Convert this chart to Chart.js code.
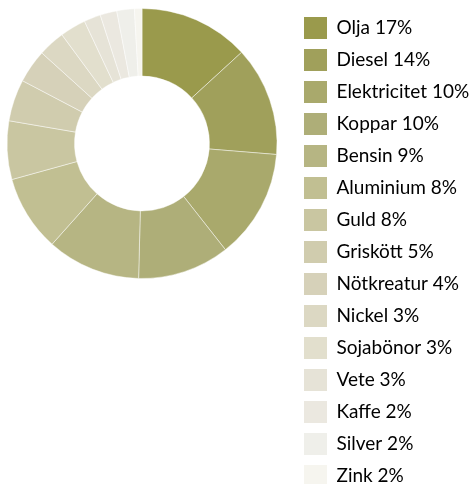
<!DOCTYPE html>
<html lang="sv">
<head>
    <meta charset="UTF-8">
    <title>Råvaror</title>
    <script src="https://cdn.jsdelivr.net/npm/chart.js"></script>
    <style>
        html, body {
            margin: 0;
            padding: 0;
            background: #fff;
            overflow: hidden;
        }
        .chart-container {
            position: relative;
            width: 472px;
            height: 500px;
        }
    </style>
</head>
<body>

<div class="chart-container">
    <canvas id="mixChart"></canvas>
</div>

<script>
    // legend names and the percentages printed next to them
    const names = ['Olja', 'Diesel', 'Elektricitet', 'Koppar', 'Bensin', 'Aluminium', 'Guld',
        'Griskött', 'Nötkreatur', 'Nickel', 'Sojabönor', 'Vete', 'Kaffe', 'Silver', 'Zink'];
    const legendPct = [17, 14, 10, 10, 9, 8, 8, 5, 4, 3, 3, 3, 2, 2, 2];

    // slice sizes as measured off the ring itself
    const sliceValues = [13.2, 13.1, 13.1, 11.0, 11.2, 9.1, 7.0, 5.0, 4.0, 3.2, 3.1, 2.0, 2.0, 2.1, 0.9];

    const colors = ['#9a9a4c', '#a0a05b', '#a9a96c', '#aeae78', '#b6b583', '#c1bf92', '#c9c6a1',
        '#d0ccae', '#d6d1b9', '#dcd8c3', '#e2dfcd', '#e6e3d7', '#ebe8e0', '#efefea', '#f6f5ef'];

    // put the ring in the top-left corner, legend keeps its own box
    const placeRing = {
        id: 'placeRing',
        afterLayout(chart) {
            const a = chart.chartArea;
            a.left = 6.5;
            a.right = 277.5;
            a.top = 8;
            a.bottom = 279;
            a.width = 271;
            a.height = 271;
        }
    };

    const ctx = document.getElementById('mixChart').getContext('2d');

    new Chart(ctx, {
        type: 'doughnut',
        data: {
            labels: names,
            datasets: [{
                data: sliceValues,
                backgroundColor: colors,
                borderColor: 'rgba(255,255,255,0.45)',
                borderWidth: 1,
                clip: false
            }]
        },
        options: {
            responsive: true,
            maintainAspectRatio: false,
            animation: false,
            cutout: '50%',
            layout: { padding: { top: 7, left: 0, right: 0, bottom: 0 } },
            plugins: {
                tooltip: { enabled: false },
                legend: {
                    position: 'right',
                    align: 'start',
                    maxWidth: 178,
                    labels: {
                        boxWidth: 23,
                        boxHeight: 22,
                        padding: 10,
                        color: '#333',
                        font: { family: 'Lato', size: 19 },
                        generateLabels: () => names.map((n, i) => ({
                            text: n + ' ' + legendPct[i] + '%',
                            fillStyle: colors[i],
                            strokeStyle: colors[i],
                            lineWidth: 0,
                            hidden: false,
                            index: i
                        }))
                    }
                }
            }
        },
        plugins: [placeRing]
    });
</script>

</body>
</html>
